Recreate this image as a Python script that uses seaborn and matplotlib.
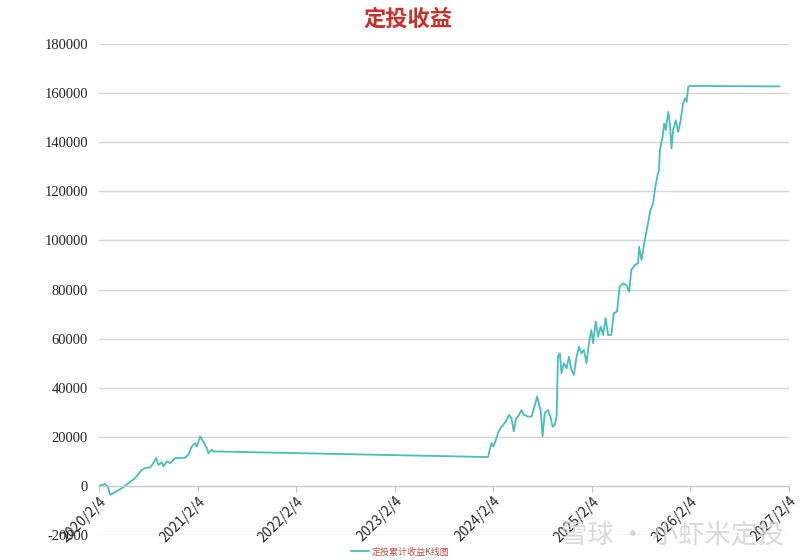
import matplotlib
matplotlib.use("Agg")
from matplotlib import pyplot as plt
import numpy as np
import pandas
import seaborn as sns

# 定投累计收益
dates = [
    "2020-02-04", "2020-02-26", "2020-03-07", "2020-03-16", "2020-03-28", "2020-04-28",
    "2020-05-23", "2020-06-16", "2020-07-11", "2020-07-23", "2020-08-11", "2020-08-23",
    "2020-09-02", "2020-09-11", "2020-09-23", "2020-09-29", "2020-10-12", "2020-10-24",
    "2020-11-12", "2020-11-30", "2020-12-19", "2020-12-31", "2021-01-12", "2021-01-25",
    "2021-01-31", "2021-02-12", "2021-02-24", "2021-03-09", "2021-03-15", "2021-03-27",
    "2021-04-02",
    "2024-01-16", "2024-01-22", "2024-01-29", "2024-02-04", "2024-02-10", "2024-02-22",
    "2024-03-02", "2024-03-12", "2024-03-22", "2024-04-03", "2024-04-12", "2024-04-20",
    "2024-04-28", "2024-05-10", "2024-05-19", "2024-05-28", "2024-06-12", "2024-06-25",
    "2024-07-01", "2024-07-11", "2024-07-16", "2024-07-23", "2024-07-29", "2024-08-05",
    "2024-08-13", "2024-08-25", "2024-09-03", "2024-09-11", "2024-09-19", "2024-09-26",
    "2024-10-01", "2024-10-08", "2024-10-14", "2024-10-23", "2024-11-02", "2024-11-11",
    "2024-11-20", "2024-11-29", "2024-12-09", "2024-12-18", "2024-12-27", "2025-01-05",
    "2025-01-15", "2025-01-24", "2025-02-02", "2025-02-08", "2025-02-18", "2025-02-27",
    "2025-03-08", "2025-03-17", "2025-03-27", "2025-04-05", "2025-04-17", "2025-04-26",
    "2025-05-08", "2025-05-18", "2025-05-30", "2025-06-12", "2025-06-22", "2025-06-30",
    "2025-07-13", "2025-07-25", "2025-07-29", "2025-08-07", "2025-08-19", "2025-08-31",
    "2025-09-09", "2025-09-19", "2025-09-25", "2025-10-04", "2025-10-11", "2025-10-14",
    "2025-10-24", "2025-10-30", "2025-11-05", "2025-11-14", "2025-11-20", "2025-11-26",
    "2025-12-02", "2025-12-12", "2025-12-21", "2025-12-30", "2026-01-08", "2026-01-15",
    "2026-01-21", "2026-01-27", "2026-02-02", "2027-01-01",
]
profit = [
    0, 700, -300, -3700, -3000, -1000,
    1100, 3100, 6500, 7200, 7500, 9200,
    11300, 8500, 9500, 7900, 9900, 9200,
    11300, 11300, 11500, 12600, 16000, 17400,
    16000, 20100, 18000, 15400, 13300, 14700,
    14000,
    11700, 14700, 17400, 16000, 17400, 21500,
    23500, 24800, 26200, 28900, 27600, 22100,
    27200, 28900, 30900, 28900, 28200, 28200,
    30300, 34300, 36400, 33000, 30900, 20100,
    29600, 30900, 28200, 24100, 24800, 28200,
    52600, 54000, 45900, 50000, 47900, 52600,
    47200, 45200, 52600, 56700, 54000, 55400,
    50000, 58100, 63500, 58100, 66900, 60800,
    64900, 61500, 68300, 61500, 61500, 70300,
    71000, 81200, 82500, 81800, 79100, 88000,
    90000, 90700, 97400, 92000, 100200, 107000,
    112400, 115100, 120500, 126000, 128700, 136800,
    142200, 147700, 145000, 152400, 147700, 137500,
    145000, 149000, 144300, 149000, 155800, 157900,
    156500, 162600, 163000, 162800,
]
tick_dates = ["2020-02-04", "2021-02-04", "2022-02-04", "2023-02-04",
              "2024-02-04", "2025-02-04", "2026-02-04", "2027-02-04"]
tick_labels = ["2020/2/4", "2021/2/4", "2022/2/4", "2023/2/4",
               "2024/2/4", "2025/2/4", "2026/2/4", "2027/2/4"]
y_ticks = list(range(-20000, 180001, 20000))

df = pandas.DataFrame({"日期": pandas.to_datetime(dates), "收益": profit})

sns.set_style("whitegrid")
plt.rcParams['font.family'] = ['Noto Sans CJK SC', 'DejaVu Sans']

fig = plt.figure(figsize=(8, 5.6), dpi=100)
ax = fig.add_axes([0.124, 0.045, 0.862, 0.876])

sns.lineplot(data=df, x="日期", y="收益", ax=ax, color="#45bfb8", linewidth=1.3,
             label="定投累计收益K线图", legend=False)

# axes
ax.set_ylim(-20000, 180000)
ax.set_yticks(y_ticks)
ax.set_yticklabels([str(v) for v in y_ticks], family=['Liberation Serif'], fontsize=10.5)
ax.set_xlim(pandas.Timestamp(tick_dates[0]), pandas.Timestamp(tick_dates[-1]))
ax.set_xticks(pandas.to_datetime(tick_dates))
ax.set_xticklabels(tick_labels, family=['Liberation Serif'], fontsize=10.5)
ax.grid(axis='y', color='#d4d4d4', linewidth=1)
ax.grid(axis='x', visible=False)
ax.set_xlabel("")
ax.set_ylabel("")
for s in ["left", "top", "right"]:
    ax.spines[s].set_visible(False)
ax.spines["bottom"].set_position(("data", 0))
ax.spines["bottom"].set_color("#c8c8c8")
ax.tick_params(axis='x', which='major', bottom=True, length=4, color='#c8c8c8', pad=2)
ax.tick_params(axis='y', length=0, pad=8)
plt.setp(ax.get_xticklabels(), rotation=45, ha='right', va='top', rotation_mode='anchor')

fig.text(0.51, 0.965, "定投收益", ha='center', va='center', fontsize=16,
         fontweight='bold', color='#c9302c')
fig.legend(loc='lower center', bbox_to_anchor=(0.5, -0.008), frameon=False,
           fontsize=6.5, labelcolor='#c0504d', handlelength=2, handletextpad=0.3)

# watermark
fig.text(0.84, 0.045, "雪球 · 小虾米定投", ha='center', va='center', fontsize=19,
         color='#d0d0d0', alpha=0.8)

fig.savefig("out.png", dpi=100)
